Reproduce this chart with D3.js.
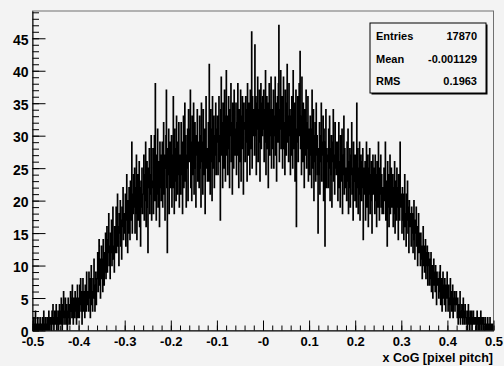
<!DOCTYPE html>
<html>
<head>
<meta charset="utf-8">
<script src="https://cdn.jsdelivr.net/npm/d3@7"></script>
<style>
  html, body { margin: 0; padding: 0; background: #f3f3f3; }
  svg { display: block; font-family: "Liberation Sans", Arial, Helvetica, sans-serif; font-weight: bold; }
</style>
</head>
<body>
<svg id="chart" width="504" height="366"></svg>
<script>
// histogram range and bin width (1000 bins from -0.5 to 0.5)
var xMin = -0.5, xMax = 0.5, binWidth = 0.001;

// bin contents, 20 bins per row
var counts = [
  1,0,2,0,0,1,3,0,1,0,0,2,1,0,0,1,2,0,1,0,
  0,2,1,0,3,1,0,1,2,0,1,0,2,1,0,3,1,0,2,1,
  2,0,3,1,4,2,0,1,3,2,1,4,0,2,1,3,0,2,4,1,
  3,1,5,2,0,4,2,6,1,3,2,5,1,4,3,0,2,5,3,1,
  4,1,6,3,5,2,7,3,1,5,4,2,6,3,5,1,4,7,2,4,
  5,2,7,4,8,3,6,1,5,8,3,6,4,2,7,5,3,9,4,6,
  6,3,9,5,8,2,7,10,4,6,3,8,5,11,6,3,7,9,4,8,
  8,12,6,10,14,7,11,5,9,13,8,11,6,14,10,7,12,9,15,8,
  11,16,9,14,12,18,10,13,8,15,12,17,10,14,19,11,13,9,16,12,
  14,19,12,17,21,13,16,10,18,15,20,13,17,11,19,16,22,14,18,15,
  16,21,13,19,24,17,12,20,15,22,18,14,23,17,20,29,15,21,18,24,
  19,25,15,22,18,27,14,21,24,17,20,26,16,22,13,23,19,25,18,21,
  21,27,17,24,20,29,16,23,26,19,12,25,22,28,18,24,21,30,17,23,
  22,28,18,25,30,20,38,24,17,27,21,31,19,26,23,16,29,22,27,20,
  23,29,19,26,32,21,27,17,25,30,37,22,12,28,24,31,18,26,29,22,
  24,30,19,27,22,36,26,18,31,23,28,20,33,25,21,29,24,32,19,27,
  27,21,32,24,29,18,26,33,22,28,35,23,30,19,27,25,31,20,34,26,
  26,31,37,22,29,20,33,27,24,35,21,28,32,25,19,30,27,34,23,29,
  28,22,33,25,30,19,35,26,29,21,34,27,24,31,18,29,36,25,28,23,
  27,32,23,41,29,21,34,26,31,20,36,28,25,33,22,30,27,35,24,31,
  29,33,24,31,36,26,30,17,34,39,27,32,22,35,28,25,37,30,23,33,
  40,27,33,24,31,36,28,22,34,30,38,26,32,21,35,29,25,37,31,27,
  30,35,24,32,27,38,29,22,34,31,26,37,23,33,28,36,30,21,35,32,
  31,26,36,29,34,23,38,30,27,35,32,24,37,28,33,46,25,36,30,34,
  33,27,44,30,36,24,35,31,39,26,34,29,37,23,32,38,28,35,30,36,
  31,37,26,34,29,40,24,33,36,28,35,22,32,38,27,34,30,39,25,33,
  34,28,37,25,33,30,39,27,35,23,32,36,29,38,47,26,34,31,40,28,
  30,36,25,34,39,28,32,24,37,31,27,35,41,29,33,26,38,30,34,24,
  33,27,36,30,25,40,32,28,35,23,34,37,16,31,29,36,26,33,38,30,
  43,28,33,24,39,30,26,35,29,22,34,31,27,37,25,32,28,36,23,31,
  29,24,33,27,31,22,37,28,25,34,20,30,26,32,23,35,27,30,24,15,
  28,24,32,21,30,26,35,23,29,27,33,20,31,25,13,29,34,22,28,26,
  27,22,31,25,33,20,28,24,30,19,29,26,34,23,27,21,32,25,29,24,
  24,29,20,27,32,22,26,19,30,25,23,31,18,27,24,33,21,28,25,22,
  25,20,29,23,31,18,26,22,28,19,27,24,32,21,25,17,29,23,27,20,
  23,27,19,35,22,28,18,25,21,29,17,24,27,20,26,22,28,14,25,21,
  22,26,17,24,29,19,23,27,16,25,21,28,18,24,20,26,15,23,27,21,
  21,25,18,27,20,24,16,26,22,19,29,23,17,25,21,27,19,24,18,22,
  22,18,25,20,24,29,17,23,21,13,26,19,24,16,22,27,18,21,25,19,
  20,24,16,22,18,26,15,21,23,17,25,19,22,14,24,20,17,29,19,21,
  19,15,22,17,21,14,20,24,16,18,13,21,17,23,15,19,12,20,16,18,
  17,13,19,15,18,12,16,20,14,11,17,15,19,13,16,10,14,18,12,15,
  14,10,15,11,13,8,12,16,10,13,9,11,14,8,12,10,13,7,11,12,
  10,7,11,8,12,6,9,10,5,8,11,7,9,6,10,8,4,9,7,8,
  8,5,9,6,10,4,7,8,3,6,9,5,7,4,8,6,3,7,5,9,
  6,3,7,4,5,2,8,4,6,3,5,7,2,5,4,6,3,5,4,6,
  4,2,5,1,3,4,2,6,1,3,2,4,3,1,5,2,3,1,4,2,
  2,1,3,0,2,4,1,2,0,3,1,2,3,0,2,1,3,1,2,1,
  1,2,0,1,3,1,0,2,1,0,2,1,3,0,1,2,1,0,2,1,
  1,0,2,0,1,1,0,2,0,1,0,1,2,0,1,0,1,0,1,1
];

// axis ticks and labels
var xTicks = [-0.5, -0.4, -0.3, -0.2, -0.1, 0, 0.1, 0.2, 0.3, 0.4, 0.5];
var xTickLabels = ["-0.5", "-0.4", "-0.3", "-0.2", "-0.1", "-0", "0.1", "0.2", "0.3", "0.4", "0.5"];
var yTicks = [0, 5, 10, 15, 20, 25, 30, 35, 40, 45];
var yMax = 49.2;

// stats box
var statNames = ["Entries", "Mean", "RMS"];
var statValues = ["17870", "-0.001129", "0.1963"];
var xTitle = "x CoG [pixel pitch]";

var svg = d3.select("#chart");
var padL = 32.5, padR = 493.5, padT = 11, padB = 330.5;

var x = d3.scaleLinear().domain([xMin, xMax]).range([padL, padR]);
var y = d3.scaleLinear().domain([0, yMax]).range([padB, padT]);

svg.append("rect").attr("width", 504).attr("height", 366).attr("fill", "#f3f3f3");

// frame
svg.append("rect")
    .attr("x", padL).attr("y", padT)
    .attr("width", padR - padL).attr("height", padB - padT)
    .attr("fill", "none").attr("stroke", "#707070").attr("stroke-width", 1);

svg.append("clipPath").attr("id", "plotclip")
  .append("rect").attr("x", padL).attr("y", padT - 1).attr("width", padR - padL).attr("height", padB - padT + 1);

// histogram as step line
var pts = [];
counts.forEach(function(c, i) {
  var x0 = xMin + i * binWidth;
  pts.push([x0, c]);
  pts.push([x0 + binWidth, c]);
});
var line = d3.line().x(d => x(d[0])).y(d => y(d[1]));
svg.append("path")
    .datum(pts)
    .attr("clip-path", "url(#plotclip)")
    .attr("d", line)
    .attr("fill", "none")
    .attr("stroke", "#000")
    .attr("stroke-width", 1.25);

// y axis: major ticks inside, minor ticks every unit
var yMinor = svg.append("g").attr("transform", "translate(" + padL + ",0)")
    .call(d3.axisLeft(y).tickValues(d3.range(0, 50, 1)).tickSize(-6.5).tickFormat(""));
yMinor.select(".domain").remove();

var yAxis = svg.append("g").attr("transform", "translate(" + padL + ",0)")
    .call(d3.axisLeft(y).tickValues(yTicks).tickSizeInner(-13).tickSizeOuter(0).tickPadding(4));
yAxis.selectAll("text").attr("font-size", 14).attr("font-weight", "bold").attr("fill", "#000")
    .attr("dy", null).attr("y", 6);
yAxis.select(".domain").attr("stroke", "#000");

// x axis
var xMinor = svg.append("g").attr("transform", "translate(0," + padB + ")")
    .call(d3.axisBottom(x).tickValues(d3.range(-25, 26).map(d => d * 0.02)).tickSize(-5).tickFormat(""));
xMinor.select(".domain").remove();

var xAxis = svg.append("g").attr("transform", "translate(0," + padB + ")")
    .call(d3.axisBottom(x).tickValues(xTicks).tickSizeInner(-10).tickSizeOuter(0)
      .tickFormat((d, i) => xTickLabels[i]));
xAxis.selectAll("text").attr("font-size", 13).attr("font-weight", "bold").attr("fill", "#000")
    .attr("dy", null).attr("y", 15.5);
xAxis.select(".domain").attr("stroke", "#000");
xAxis.selectAll("line").attr("stroke", "#000");
yAxis.selectAll("line").attr("stroke", "#000");

svg.append("text")
    .attr("x", 493).attr("y", 362)
    .attr("text-anchor", "end")
    .attr("font-size", 12.5)
    .text(xTitle);

// stats box
var bx = 370, by = 23, bw = 116, bh = 70;
svg.append("rect").attr("x", bx + 1.5).attr("y", by + 1.5).attr("width", bw).attr("height", bh).attr("fill", "#000");
svg.append("rect").attr("x", bx).attr("y", by).attr("width", bw).attr("height", bh)
    .attr("fill", "#f3f3f3").attr("stroke", "#000").attr("stroke-width", 1);
statNames.forEach(function(n, i) {
  var yy = by + 17 + i * 22.5;
  svg.append("text").attr("x", bx + 6).attr("y", yy).attr("font-size", 11).text(n);
  svg.append("text").attr("x", bx + bw - 9).attr("y", yy).attr("font-size", 11)
      .attr("text-anchor", "end").text(statValues[i]);
});
</script>
</body>
</html>
